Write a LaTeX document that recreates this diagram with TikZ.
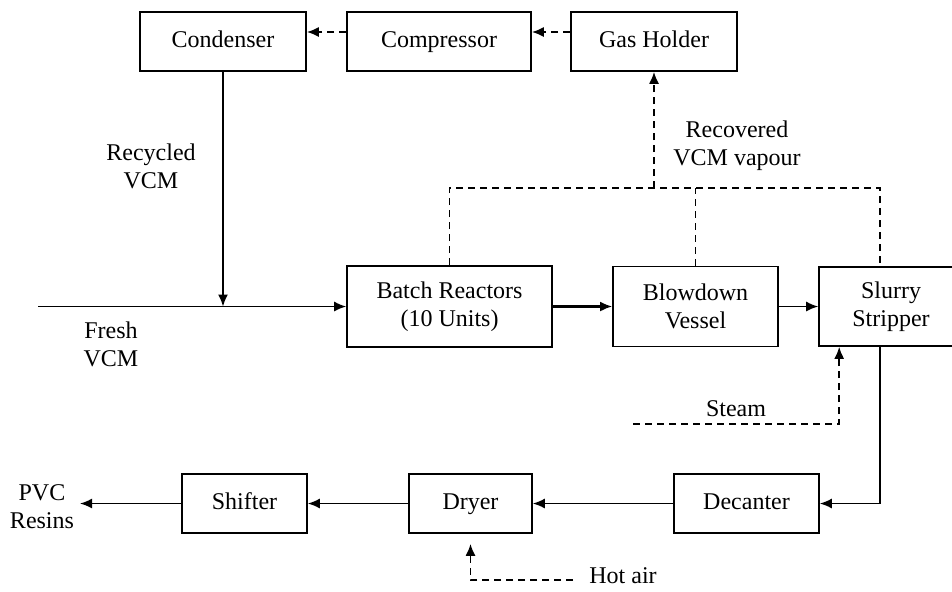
\documentclass[tikz,border=0pt]{standalone}
\usepackage{fontspec}
\setmainfont{Liberation Serif}
\usetikzlibrary{arrows.meta}
\begin{document}
\begin{tikzpicture}[x=0.5pt,y=-0.5pt,
    every node/.style={font=\fontsize{12pt}{14pt}\selectfont},
    unit/.style={draw,line width=0.8pt,align=center,inner sep=0pt},
    one/.style={text height=8.5pt,text depth=2.5pt},
    flow/.style={line width=0.8pt,-{Latex[length=6pt,width=5pt]}},
    vap/.style={line width=0.9pt,dash pattern=on 3.5pt off 2.5pt},
    lbl/.style={align=center,inner sep=0pt}]
  \clip (0,0) rectangle (952,591);
  \node[unit,one,minimum width=83pt,minimum height=29.5pt] (cond) at (223,41.5) {Condenser};
  \node[unit,one,minimum width=92pt,minimum height=29.5pt] (comp) at (439,41.5) {Compressor};
  \node[unit,one,minimum width=83pt,minimum height=29.5pt] (gas) at (654,41.5) {Gas Holder};
  \node[unit,minimum width=102.5pt,minimum height=40.5pt] (batch) at (449.5,306.5) {Batch Reactors\\(10 Units)};
  \node[unit,minimum width=82.5pt,minimum height=40pt] (blow) at (695.5,306.5) {Blowdown\\Vessel};
  \node[unit,minimum width=72pt,minimum height=39.5pt] (slurry) at (891,306.5) {Slurry\\Stripper};
  \node[unit,one,minimum width=62.5pt,minimum height=29.5pt] (shift) at (244.5,503.5) {Shifter};
  \node[unit,one,minimum width=61.5pt,minimum height=29.5pt] (dryer) at (470.5,503.5) {Dryer};
  \node[unit,one,minimum width=72.5pt,minimum height=29.5pt] (dec) at (746.5,503.5) {Decanter};

  \node[lbl] (recyc) at (151,166) {Recycled\\VCM};
  \node[lbl] (fresh) at (111,344.5) {Fresh\\VCM};
  \node[lbl] (recov) at (737,146) {Recovered\\VCM vapour};
  \node[lbl] (steam) at (736,409) {Steam};
  \node[lbl,one] (air) at (623,577) {Hot air};
  \node[lbl] (pvc) at (42,507) {PVC\\Resins};

  \coordinate (feed) at (38,306.5);
  \coordinate (mix) at (223,306.5);
  \coordinate (vl) at (449.5,188);
  \coordinate (vr) at (880,188);
  \coordinate (steam0) at (633,424);
  \coordinate (air0) at (573,580);
  \coordinate (out) at (80,503.5);

  \draw[flow] (feed) -- (batch.west);
  \draw[flow] (cond.south) -- (mix);
  \draw[flow,line width=1.1pt] (batch) -- (blow);
  \draw[flow] (blow) -- (slurry);
  \draw[flow] (slurry.south -| vr) |- (dec.east);
  \draw[flow] (dec) -- (dryer);
  \draw[flow] (dryer) -- (shift);
  \draw[flow] (shift) -- (out);

  \begin{scope}[vap]
    \draw (batch.north) -- (vl) -- (vr) -- (slurry.north -| vr);
    \draw (blow.north) -- (blow.north |- vl);
    \draw[flow,vap] (gas.south |- vl) -- (gas.south);
    \draw[flow,vap] ([yshift=4.75pt]gas.west) -- ([yshift=4.75pt]comp.east);
    \draw[flow,vap] ([yshift=4.75pt]comp.west) -- ([yshift=4.75pt]cond.east);
    \draw[flow,vap] (steam0) -| ([xshift=10.5pt]slurry.south west);
    \draw[flow,vap] (air0) -| ([yshift=-5pt]dryer.south);
  \end{scope}
\end{tikzpicture}
\end{document}
